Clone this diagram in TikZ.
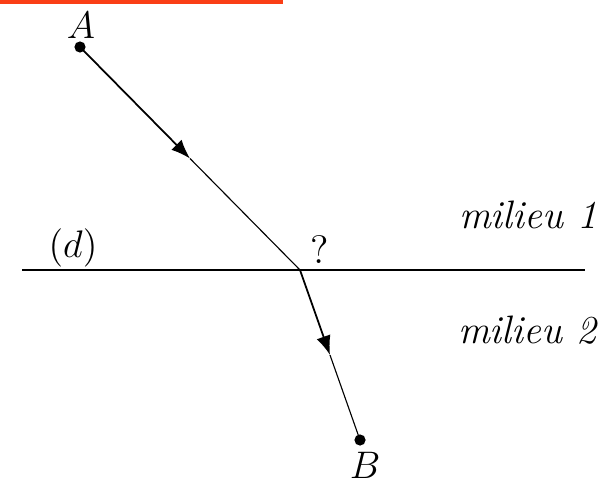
\documentclass[tikz,border=0pt]{standalone}
\usepackage{tikz}
\usetikzlibrary{arrows.meta,calc,positioning}
\definecolor{rulered}{RGB}{250,62,22}
\tikzset{
  pt/.style={fill,circle,inner sep=0pt,minimum size=3.5pt},
  ray/.style={line width=0.55pt},
  halfray/.style={line width=0.35pt},
  lbl/.style={font=\fontsize{12.4}{14}\selectfont}
}
\begin{document}
\begin{tikzpicture}[x=0.3125pt,y=-0.3125pt,>={Latex[length=6pt,width=4.5pt]}]
  \useasboundingbox (0,0) rectangle (608,481);
  % top rule
  \draw[rulered,line width=1.3pt] (0,1.5) -- (283,1.5);
  % interface
  \coordinate (dl) at (22,270);
  \coordinate (dr) at (585,270);
  \draw[line width=0.6pt] (dl) -- (dr);
  % points
  \node[pt] (A) at (80,47) {};
  \node[pt] (B) at (360,440) {};
  \coordinate (O) at (300,270);
  \coordinate (m1) at ($(A)!0.5!(O)$);
  \coordinate (m2) at ($(O)!0.5!(B)$);
  \draw[ray,->] (A.center) -- (m1);
  \draw[halfray] (m1) -- (O);
  \draw[ray,->] (O) -- (m2);
  \draw[halfray] (m2) -- (B.center);
  % labels
  \node[lbl] (la) at (81,25) {$A$};
  \node[lbl] (lb) at (365,465) {$B$};
  \node[lbl] (ld) at (73,248) {$(d)$};
  \node[lbl] (lq) at (320,250) {?};
  \node[lbl] (m1lab) at (528,215) {\textit{milieu 1}};
  \node[lbl] (m2lab) at (528,330) {\textit{milieu 2}};
\end{tikzpicture}
\end{document}
